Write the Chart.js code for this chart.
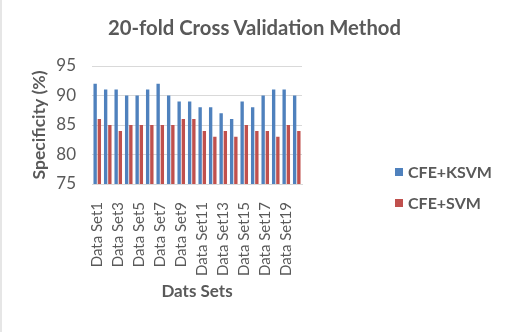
<!DOCTYPE html>
<html>
<head>
<meta charset="utf-8">
<script src="https://cdn.jsdelivr.net/npm/chart.js@4"></script>
<style>
  html, body { margin: 0; padding: 0; background: #fff; }
  #wrap { position: relative; width: 505px; height: 332px; box-sizing: border-box; border-left: 2px solid #e6e6e6; }
  #title { position: absolute; left: 0; width: 505px; top: 15px; text-align: center; font-family: Lato, sans-serif; font-size: 20.3px; font-weight: bold; color: #595959; }
  #legend { position: absolute; left: 393px; top: 156px; font-family: Lato, sans-serif; font-size: 16px; font-weight: bold; color: #595959; }
  #legend div { height: 31px; display: flex; align-items: center; }
  #legend span { display: inline-block; width: 8px; height: 8px; margin-right: 5px; }
</style>
</head>
<body>
<div id="wrap">
  <canvas id="c" width="503" height="332"></canvas>
  <div id="title">20-fold Cross Validation Method</div>
  <div id="legend"></div>
</div>
<script>
// values
const dataSets = [
  "Data Set1", "Data Set2", "Data Set3", "Data Set4", "Data Set5",
  "Data Set6", "Data Set7", "Data Set8", "Data Set9", "Data Set10",
  "Data Set11", "Data Set12", "Data Set13", "Data Set14", "Data Set15",
  "Data Set16", "Data Set17", "Data Set18", "Data Set19", "Data Set20"
];
const cfeKsvm = [92, 91, 91, 90, 90, 91, 92, 90, 89, 89, 88, 88, 87, 86, 89, 88, 90, 91, 91, 90];
const cfeSvm = [86, 85, 84, 85, 85, 85, 85, 85, 86, 86, 84, 83, 84, 83, 85, 84, 84, 83, 85, 84];

const series = [
  { label: "CFE+KSVM", data: cfeKsvm, color: "#4f81bd" },
  { label: "CFE+SVM", data: cfeSvm, color: "#c0504d" },
];

const gray = "#595959";
const font = "Lato, sans-serif";

new Chart(document.getElementById("c"), {
  type: "bar",
  data: {
    labels: dataSets,
    datasets: series.map((s) => ({
      label: s.label,
      data: s.data,
      backgroundColor: s.color,
      categoryPercentage: 0.8,
      barPercentage: 0.8,
    })),
  },
  options: {
    responsive: false,
    animation: false,
    layout: { padding: { left: 27, right: 203, top: 66, bottom: 30 } },
    plugins: {
      legend: { display: false },
      tooltip: { enabled: false },
    },
    scales: {
      y: {
        min: 75,
        max: 95,
        afterFit: (scale) => { scale.width = 63; }, // keep tick labels close to the axis title
        ticks: { stepSize: 5, color: gray, font: { family: font, size: 17 }, padding: 16 },
        grid: { color: "#d9d9d9", drawTicks: false },
        border: { display: false },
        title: {
          display: true,
          text: "Specificity (%)",
          color: gray,
          font: { family: font, size: 17.5, weight: "bold" },
          padding: { top: 0, bottom: 0 },
        },
      },
      x: {
        ticks: {
          color: gray,
          font: { family: font, size: 15 },
          minRotation: 90,
          maxRotation: 90,
          autoSkip: false,
          padding: 10,
          callback: function (v, i) { return i % 2 === 0 ? dataSets[i] : ""; },
        },
        grid: { display: false },
        border: { color: "#d9d9d9" },
        title: {
          display: true,
          text: "Dats Sets",
          color: gray,
          font: { family: font, size: 17, weight: "bold" },
          padding: { top: 11, bottom: 0 },
        },
      },
    },
  },
});

// legend
const legend = document.getElementById("legend");
series.forEach((s) => {
  const row = document.createElement("div");
  row.innerHTML = '<span style="background:' + s.color + '"></span>' + s.label;
  legend.appendChild(row);
});
</script>
</body>
</html>
